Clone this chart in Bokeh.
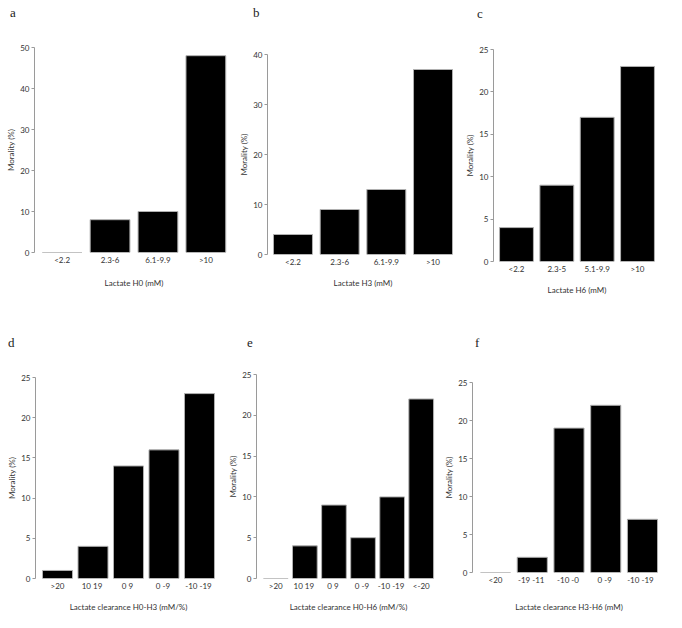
from bokeh.plotting import figure
from bokeh.layouts import column, row
from bokeh.models import FactorRange, Range1d, FixedTicker, Div
from bokeh.embed import file_html
from bokeh.resources import INLINE

# ---- data ----
cats_a = ["<2.2", "2.3-6", "6.1-9.9", ">10"]
vals_a = [0, 8, 10, 48]
cats_b = ["<2.2", "2.3-6", "6.1-9.9", ">10"]
vals_b = [4, 9, 13, 37]
cats_c = ["<2.2", "2.3-5", "5.1-9.9", ">10"]
vals_c = [4, 9, 17, 23]
cats_d = [">20", "10  19", "0  9", "0  -9", "-10  -19"]
vals_d = [1, 4, 14, 16, 23]
cats_e = [">20", "10  19", "0  9", "0  -9", "-10  -19", "<-20"]
vals_e = [0, 4, 9, 5, 10, 22]
cats_f = ["<20", "-19  -11", "-10  -0", "0  -9", "-10  -19 "]
vals_f = [0, 2, 19, 22, 7]

letters = ["a", "b", "c", "d", "e", "f"]
xtitles = ["Lactate H0 (mM)", "Lactate H3 (mM)", "Lactate H6 (mM)",
           "Lactate clearance H0-H3 (mM/%)", "Lactate clearance H0-H6 (mM/%)",
           "Lactate clearance H3-H6 (mM)"]
ymax = [50, 40, 25, 25, 25, 25]
yticks = [[0, 10, 20, 30, 40, 50], [0, 10, 20, 30, 40], [0, 5, 10, 15, 20, 25],
          [0, 5, 10, 15, 20, 25], [0, 5, 10, 15, 20, 25], [0, 5, 10, 15, 20, 25]]

# layout geometry (pixels):
# (frame_w, frame_h, left, right, top, bottom, pad, bar_w, xlabel_standoff)
geo = [
    (199, 205, 34, 0, 21, 48, 0.077, 0.83, 10),
    (191, 200, 34, 0, 28, 46, 0.046, 0.835, 8),
    (167, 212, 35, 18, 23, 39, 0.07, 0.84, 8),
    (186, 201, 35, 1, 21, 48, 0.12, 0.845, 8),
    (184, 204, 34, 0, 18, 48, 0.163, 0.85, 8),
    (193, 190, 32, 14, 26, 54, 0.127, 0.82, 14),
]
# letter placement (left, top) inside the strip above each row of panels
letter_pos = [(10, 6), (253, 6), (477, 7), (8, 36), (247, 36), (475, 36)]
strip_h = [26, 56]

SANS = "Lato"
GRAY = "#9a9a9a"
TXT = "#333333"


def strip(idx, h):
    spans = "".join(
        '<span style="position:absolute;left:%dpx;top:%dpx;">%s</span>'
        % (letter_pos[k][0], letter_pos[k][1], letters[k]) for k in idx)
    html = ('<div style="position:relative;width:678px;height:%dpx;'
            'font-family:\'Liberation Serif\';font-size:13px;line-height:13px;'
            'color:#222222;">%s</div>' % (h, spans))
    return Div(text=html, width=678, height=h, margin=0)


def panel(i, cats, vals):
    fw, fh, l, r, t, b, pad, bw, xls = geo[i]
    p = figure(x_range=FactorRange(*cats, range_padding=pad, range_padding_units="absolute"),
               y_range=Range1d(0, ymax[i]),
               width=fw + l + r, height=fh + t + b,
               min_border_left=l, min_border_right=r, min_border_top=t, min_border_bottom=b,
               toolbar_location=None, output_backend="svg")
    p.vbar(x=cats, top=vals, width=bw, fill_color="black", line_color="#b0b0b0", line_width=1)

    p.outline_line_color = None
    p.grid.visible = False
    p.background_fill_color = "white"
    p.border_fill_color = "white"

    p.yaxis.ticker = FixedTicker(ticks=yticks[i])
    p.yaxis.axis_line_color = GRAY
    p.yaxis.major_tick_line_color = GRAY
    p.yaxis.major_tick_out = 3
    p.yaxis.major_tick_in = 0
    p.yaxis.minor_tick_line_color = None
    p.yaxis.minor_tick_out = 0
    p.yaxis.major_label_standoff = 2
    p.yaxis.major_label_text_font = SANS
    p.yaxis.major_label_text_font_size = "8px"
    p.yaxis.major_label_text_color = TXT
    p.yaxis.axis_label = "Morality (%)"
    p.yaxis.axis_label_text_font = SANS
    p.yaxis.axis_label_text_font_size = "8px"
    p.yaxis.axis_label_text_font_style = "normal"
    p.yaxis.axis_label_text_color = TXT
    p.yaxis.axis_label_standoff = 1

    p.xaxis.axis_line_color = None
    p.xaxis.major_tick_line_color = None
    p.xaxis.major_tick_out = 0
    p.xaxis.major_tick_in = 0
    p.xaxis.minor_tick_line_color = None
    p.xaxis.major_label_standoff = 2
    p.xaxis.major_label_text_font = SANS
    p.xaxis.major_label_text_font_size = "8px"
    p.xaxis.major_label_text_color = TXT
    p.xaxis.axis_label = xtitles[i]
    p.xaxis.axis_label_text_font = SANS
    p.xaxis.axis_label_text_font_size = "8px"
    p.xaxis.axis_label_text_font_style = "normal"
    p.xaxis.axis_label_text_color = TXT
    p.xaxis.axis_label_standoff = xls
    return p


pa = panel(0, cats_a, vals_a)
pb = panel(1, cats_b, vals_b)
pc = panel(2, cats_c, vals_c)
pd = panel(3, cats_d, vals_d)
pe = panel(4, cats_e, vals_e)
pf = panel(5, cats_f, vals_f)

layout = column(strip([0, 1, 2], strip_h[0]),
                row(column(pa), column(pb), column(pc), spacing=0),
                strip([3, 4, 5], strip_h[1]),
                row(column(pd), column(pe), column(pf), spacing=0), spacing=0)
open("out.html", "w").write(file_html(layout, INLINE))
